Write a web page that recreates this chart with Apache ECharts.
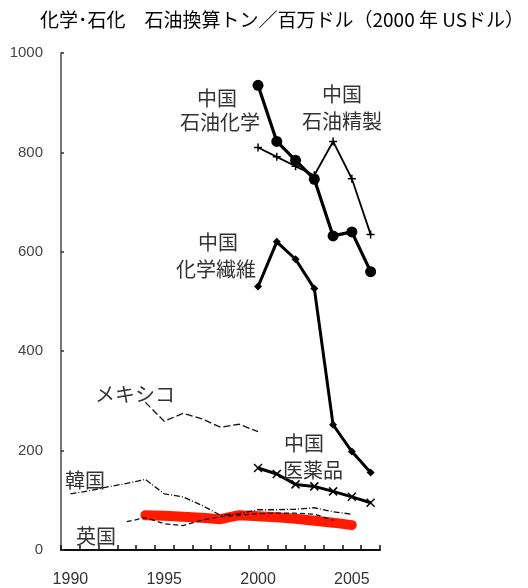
<!DOCTYPE html>
<html>
<head>
<meta charset="utf-8">
<script src="https://cdn.jsdelivr.net/npm/echarts@6/dist/echarts.min.js"></script>
<style>html,body{margin:0;padding:0;background:#fff}#c{width:528px;height:588px}</style>
</head>
<body>
<div id="c"></div>
<script>
const years = ['1990','1991','1992','1993','1994','1995','1996','1997','1998','1999','2000','2001','2002','2003','2004','2005','2006'];
const yTicks = [0, 200, 400, 600, 800, 1000];
const chinaPetrochem = [null,null,null,null,null,null,null,null,null,null,935,822,784,746,632,640,560];
const chinaRefining  = [null,null,null,null,null,null,null,null,null,null,810,791,772,754,822,747,635];
const chinaFiber     = [null,null,null,null,null,null,null,null,null,null,530,620,585,526,252,198,156];
const chinaPharma    = [null,null,null,null,null,null,null,null,null,null,165,153,132,128,118,107,95];
const mexico         = [null,null,null,null,297,259,275,264,247,253,238,null,null,null,null,null,null];
const korea          = [113,119,127,134,142,113,107,90,70,73,81,81,82,85,77,72,null];
const uk             = [null,null,null,57,65,53,49,60,67,70,73,74,74,72,60,null,null];
const highlight      = [null,null,null,null,70,69,67,65,62,70,68,66,63,59,55,50,null];

const titleText = '化学･石化　石油換算トン／百万ドル（2000 年 USドル）';
const jp = "'Noto Sans CJK JP', sans-serif";
const num = "'Liberation Sans', Arial, sans-serif";

const chart = echarts.init(document.getElementById('c'), null, {renderer: 'canvas'});
const crossPath = 'path://M0,0L10,10M10,0L0,10';
const plusPath = 'path://M5,0L5,10M0,5L10,5';

const labelStyle = {fontFamily: jp, fontSize: 20, fill: '#333', textAlign: 'center', textVerticalAlign: 'middle'};
function txt(x, y, t, extra) {
  return {type: 'text', x: x, y: y, style: Object.assign({}, labelStyle, {text: t}, extra || {}), z: 10};
}

chart.setOption({
  animation: false,
  backgroundColor: '#fff',
  grid: {left: 61, right: 148, top: 53, bottom: 38},
  xAxis: {
    type: 'category', data: years, boundaryGap: true,
    axisLine: {lineStyle: {color: '#111', width: 2}},
    axisTick: {show: true, inside: true, length: 5, interval: 0, lineStyle: {color: '#111', width: 1.5}},
    axisLabel: {interval: 4, margin: 22, fontFamily: num, fontSize: 16, color: '#333'}
  },
  yAxis: {
    type: 'value', min: yTicks[0], max: yTicks[yTicks.length - 1], interval: 200,
    axisLine: {show: true, lineStyle: {color: '#777', width: 2}},
    axisTick: {show: true, inside: true, length: 3, lineStyle: {color: '#333', width: 1.5}},
    axisLabel: {margin: 18, fontFamily: num, fontSize: 15, color: '#444', formatter: function (v) { return String(v); }},
    splitLine: {show: false}
  },
  series: [
    {name: 'hl', type: 'line', data: highlight, showSymbol: false, z: 1,
     lineStyle: {color: '#ff1a00', width: 10, cap: 'round', join: 'round'}},
    {name: '韓国', type: 'line', data: korea, showSymbol: false, z: 2,
     lineStyle: {color: '#111', width: 1.3, type: [6, 2, 1, 2]}},
    {name: '英国', type: 'line', data: uk, showSymbol: false, z: 2,
     lineStyle: {color: '#111', width: 1.3, type: [5, 3]}},
    {name: 'メキシコ', type: 'line', data: mexico, showSymbol: false, z: 2,
     lineStyle: {color: '#111', width: 1.3, type: [7, 3]}},
    {name: '中国医薬品', type: 'line', data: chinaPharma, symbol: crossPath, symbolSize: 8, z: 3,
     itemStyle: {color: '#000', borderColor: '#000', borderWidth: 1.5},
     lineStyle: {color: '#000', width: 3}},
    {name: '中国化学繊維', type: 'line', data: chinaFiber, symbol: 'diamond', symbolSize: 8, z: 3,
     itemStyle: {color: '#000'}, lineStyle: {color: '#000', width: 3}},
    {name: '中国石油精製', type: 'line', data: chinaRefining, symbol: plusPath, symbolSize: 8, z: 3,
     itemStyle: {color: '#000', borderColor: '#000', borderWidth: 1.5},
     lineStyle: {color: '#000', width: 1.8}},
    {name: '中国石油化学', type: 'line', data: chinaPetrochem, symbol: 'circle', symbolSize: 11, z: 4,
     itemStyle: {color: '#000'}, lineStyle: {color: '#000', width: 3.2}}
  ],
  graphic: [
    {type: 'text', left: 40, top: 10, z: 10,
     style: {text: titleText, fontFamily: jp, fontSize: 19, fill: '#000'}},
    txt(217, 98, '中国'), txt(220, 122, '石油化学'),
    txt(342, 94, '中国'), txt(342, 121, '石油精製'),
    txt(218, 242, '中国'), txt(216, 269, '化学繊維'),
    txt(304, 443, '中国'), txt(313, 470, '医薬品'),
    txt(135, 394, 'メキシコ'),
    txt(85, 480, '韓国'),
    txt(96, 536, '英国')
  ]
});
</script>
</body>
</html>
